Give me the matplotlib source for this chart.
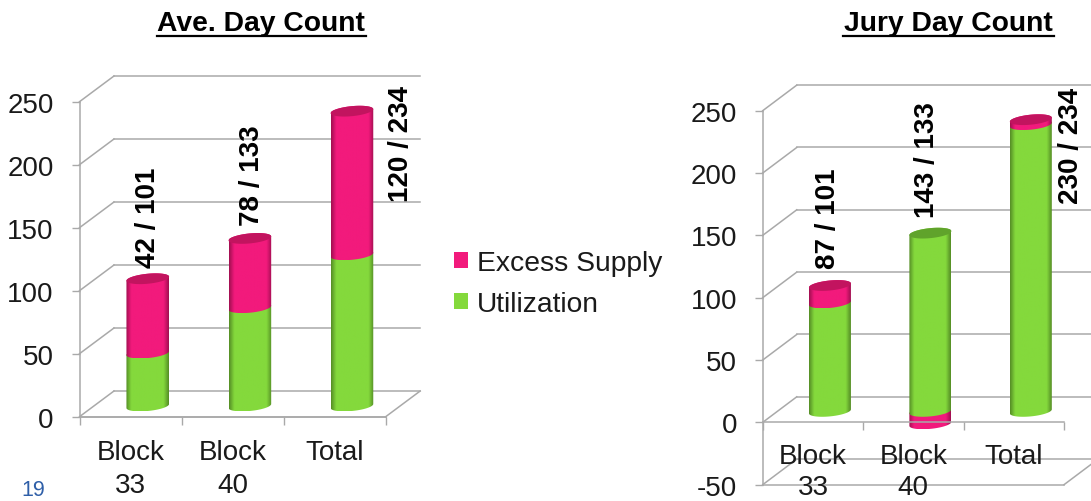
import numpy as np
import matplotlib
matplotlib.use("Agg")
import matplotlib.pyplot as plt
from matplotlib.patches import Polygon, Patch
from matplotlib.lines import Line2D

plt.rcParams['font.family'] = ['Liberation Sans', 'DejaVu Sans']
plt.rcParams['axes.unicode_minus'] = False

categories = ["Block\n33", "Block\n40", "Total"]
ave_utilization = [42, 78, 120]
ave_supply = [101, 133, 234]
jury_utilization = [87, 143, 230]
jury_supply = [101, 133, 234]
yticks_left = [0, 50, 100, 150, 200, 250]
yticks_right = [-50, 0, 50, 100, 150, 200, 250]
ave_labels = ["42 / 101", "78 / 133", "120 / 234"]
jury_labels = ["87 / 101", "143 / 133", "230 / 234"]

W, H = 1091, 502
GRAY = '#a9a9a9'
PINK = ('#f21a7c', '#a30f52', '#c2145f')
GREEN = ('#84d93c', '#568f26', '#60a32b')

fig = plt.figure(figsize=(W / 100, H / 100), dpi=100, facecolor='white')


def make_axes(x0, x1, ytop, ybot, ylim):
    ax = fig.add_axes([x0 / W, 1 - ybot / H, (x1 - x0) / W, (ybot - ytop) / H])
    ax.set_xlim(-0.5, 2.5)
    ax.set_ylim(*ylim)
    ax.patch.set_alpha(0)
    return ax


def shade(colors):
    stops = [0, 0.12, 0.5, 0.88, 1]
    c, e, _ = [matplotlib.colors.to_rgb(k) for k in colors]
    xs = np.linspace(0, 1, 64)
    rgb = np.stack([np.interp(xs, stops, [e[i], c[i], c[i], c[i], e[i]]) for i in range(3)], axis=-1)
    return rgb[None, :, :]


def segment(ax, cx, hw, y0, y1, b, s, colors, z):
    """One cylinder section between the centres of its lower and upper rims."""
    t0 = np.linspace(np.pi, 2 * np.pi, 40)
    t1 = np.linspace(0, np.pi, 40)
    xs = np.r_[cx + hw * np.cos(t0), cx + hw * np.cos(t1)]
    ys = np.r_[y0 + b * np.sin(t0) + s * np.cos(t0), y1 + b * np.sin(t1) + s * np.cos(t1)]
    poly = Polygon(np.c_[xs, ys], closed=True, facecolor='none', edgecolor='none', transform=ax.transData)
    ax.add_patch(poly)
    im = ax.imshow(shade(colors), extent=[cx - hw, cx + hw, ys.min(), ys.max()],
                   aspect='auto', interpolation='bilinear', zorder=z)
    im.set_clip_path(poly)
    poly.set_zorder(z)


def chart(ax, px_per_unit, util, supply, labels, yticks, floor, offs, depth, xpad, spacing):
    dx, dy, lift = depth
    ylim = ax.get_ylim()
    for side in ('top', 'right'):
        ax.spines[side].set_visible(False)
    ax.spines['left'].set_color(GRAY)
    ax.spines['left'].set_linewidth(1.1)
    ax.spines['bottom'].set_color(GRAY)
    ax.spines['bottom'].set_linewidth(1.1)
    ax.spines['bottom'].set_position(('data', 0))
    ax.spines['bottom'].set_zorder(8)

    ax.set_yticks(yticks)
    ax.tick_params(axis='y', length=5.5, width=1.0, color=GRAY, labelsize=20, pad=13, labelcolor='#1a1a1a')
    ax.set_xticks([-0.5, 0.5, 1.5, 2.5])
    ax.set_xticklabels([])
    ax.set_xticks([0, 1, 2], minor=True)
    ax.set_xticklabels(categories, minor=True, fontsize=20, color='#1a1a1a', linespacing=spacing)
    ax.tick_params(axis='x', which='major', length=5.5, width=1.0, color=GRAY)
    ax.tick_params(axis='x', which='minor', length=0, pad=xpad)
    for lab in ax.get_xticklabels(minor=True):
        lab.set_zorder(12)

    line = dict(color=GRAY, lw=1.1, clip_on=False, zorder=1)
    for v in yticks:
        ax.plot([-0.5 + dx, 2.5 + dx], [v + dy, v + dy], **line)
        ax.plot([-0.5, -0.5 + dx], [v, v + dy], **line)
    ax.plot([-0.5, 2.5], [floor, floor], **line)
    ax.plot([2.5, 2.5 + dx], [floor, floor + dy], **line)

    hw = 0.209
    b = 5.0 / px_per_unit
    s = 2.0 / px_per_unit
    for i, (u, t) in enumerate(zip(util, supply)):
        cx = i + dx / 2
        e = t - u
        segment(ax, cx, hw, lift, lift + u, b, s, GREEN, 3)
        if e >= 0:
            # excess supply sits on top of the utilization section
            segment(ax, cx, hw, lift + u, lift + t, b, s, PINK, 4)
            cap, cols = lift + t, PINK
        else:
            # a negative excess hangs below the zero line, behind the green rim
            segment(ax, cx, hw, lift + e, lift, b, s, PINK, 2)
            cap, cols = lift + u, GREEN
        tt = np.linspace(0, 2 * np.pi, 80)
        ax.add_patch(Polygon(np.c_[cx + hw * np.cos(tt), cap + b * np.sin(tt) + s * np.cos(tt)],
                             closed=True, facecolor=cols[2], edgecolor='none', zorder=5))
        ax.annotate(labels[i], xy=(i, max(u, t)), xytext=offs[i], textcoords='offset pixels',
                    rotation=90, ha='center', va='center', fontsize=20, fontweight='bold',
                    color='black', zorder=11, annotation_clip=False)
    ax.set_xlim(-0.5, 2.5)
    ax.set_ylim(*ylim)


ax1 = make_axes(79.5, 385.7, 102.7, 417.7, (0, 250))
chart(ax1, 1.26, ave_utilization, ave_supply, ave_labels, yticks_left, 0,
      [(17.5, 73), (19, 74), (66, -21)], (0.338, 20.4, 8.5), 16, 1.35)

ax2 = make_axes(762.7, 1064, 111.7, 485.7, (-50, 250))
chart(ax2, 1.2464, jury_utilization, jury_supply, jury_labels, yticks_right, -50,
      [(15, 79), (13.4, 84.7), (57.5, -14)], (0.339, 20.5, 8.8), 15, 1.22)

# Titles with underlines
for text, xc, x0, x1 in [("Ave. Day Count", 261, 157, 366), ("Jury Day Count", 948.5, 843, 1054)]:
    fig.text(xc / W, 1 - 24 / H, text, ha='center', va='center', fontsize=20.3, fontweight='bold', color='black')
    fig.add_artist(Line2D([x0 / W, x1 / W], [1 - 37 / H, 1 - 37 / H], color='black', lw=1.6))

fig.text(33.5 / W, 1 - 491 / H, "19", ha='center', va='center', fontsize=15.5, color='#2f5fa8')

handles = [Patch(facecolor=PINK[0], edgecolor='none', label="Excess Supply"),
           Patch(facecolor=GREEN[0], edgecolor='none', label="Utilization")]
fig.legend(handles=handles, loc='upper left', bbox_to_anchor=(454 / W, 1 - 251 / H), frameon=False,
           fontsize=20.3, borderpad=0, borderaxespad=0, handlelength=0.5, handleheight=0.5,
           handletextpad=0.3, labelspacing=0.53, labelcolor='#1a1a1a')

fig.savefig("out.png", dpi=100, facecolor='white')
